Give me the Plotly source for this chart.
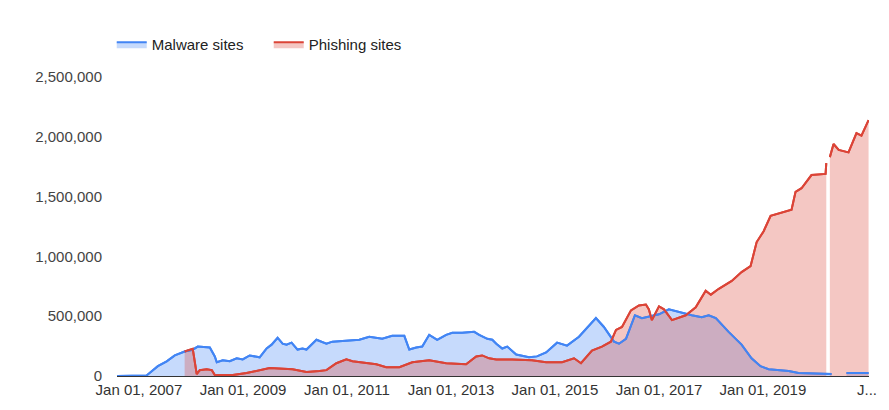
import plotly.graph_objects as go

malware_dates = [
    "2006-08-01", "2007-02-24", "2007-05-14", "2007-07-15", "2007-09-10", "2007-11-18",
    "2008-01-14", "2008-02-18", "2008-05-13", "2008-06-17", "2008-07-01", "2008-08-12",
    "2008-09-30", "2008-11-18", "2008-12-30", "2009-02-17", "2009-04-28", "2009-06-16",
    "2009-07-21", "2009-09-01", "2009-10-06", "2009-11-03", "2009-12-08", "2010-01-19",
    "2010-02-23", "2010-03-23", "2010-06-01", "2010-08-10", "2010-09-21", "2010-12-28",
    "2011-03-29", "2011-06-07", "2011-07-26", "2011-09-06", "2011-11-15", "2012-02-08",
    "2012-03-14", "2012-05-02", "2012-06-13", "2012-08-01", "2012-09-26", "2012-11-28",
    "2013-01-10", "2013-03-20", "2013-06-13", "2013-07-18", "2013-09-13", "2013-10-18",
    "2013-11-15", "2013-12-27", "2014-01-31", "2014-04-04", "2014-07-03", "2014-08-28",
    "2014-10-31", "2015-01-16", "2015-03-27", "2015-06-19", "2015-10-16", "2015-12-11",
    "2016-02-20", "2016-03-26", "2016-05-14", "2016-07-16", "2016-09-03", "2017-01-01",
    "2017-03-11", "2017-05-20", "2017-08-19", "2017-10-28", "2017-12-16", "2018-02-04",
    "2018-05-05", "2018-08-04", "2018-10-13", "2018-12-15", "2019-02-10", "2019-07-01",
    "2019-09-08", "2020-04-27", "2020-05-15", "2020-08-10", "2021-01-12",
]
malware_values = [
    0, 5000, 82000, 123000, 172000, 205000,
    220000, 246000, 238000, 164000, 115000, 131000,
    123000, 148000, 139000, 172000, 156000, 230000,
    262000, 320000, 270000, 262000, 279000, 221000,
    230000, 221000, 303000, 270000, 287000, 295000,
    303000, 328000, 320000, 311000, 336000, 336000,
    221000, 238000, 246000, 344000, 303000, 344000,
    361000, 361000, 369000, 344000, 311000, 303000,
    270000, 230000, 246000, 180000, 156000, 164000,
    197000, 279000, 254000, 328000, 484000, 410000,
    287000, 270000, 311000, 508000, 484000, 516000,
    557000, 533000, 508000, 492000, 508000, 484000,
    369000, 262000, 148000, 82000, 57000, 41000,
    25000, 16000, None, 25000, 25000,
]

phishing_dates = [
    "2007-11-18", "2008-01-14", "2008-02-11", "2008-03-03", "2008-04-21", "2008-05-27",
    "2008-06-17", "2008-10-21", "2009-01-26", "2009-04-07", "2009-07-07", "2009-12-15",
    "2010-03-23", "2010-06-22", "2010-08-10", "2010-10-19", "2010-12-28", "2011-02-09",
    "2011-05-17", "2011-07-26", "2011-10-04", "2012-01-04", "2012-04-04", "2012-08-01",
    "2012-11-28", "2013-04-17", "2013-06-27", "2013-08-08", "2013-09-26", "2013-11-15",
    "2014-03-07", "2014-07-24", "2014-10-31", "2015-02-20", "2015-05-15", "2015-07-03",
    "2015-09-18", "2015-11-27", "2016-01-29", "2016-03-05", "2016-04-16", "2016-06-18",
    "2016-08-13", "2016-10-01", "2016-10-22", "2016-11-12", "2017-01-01", "2017-02-05",
    "2017-04-02", "2017-07-08", "2017-09-16", "2017-11-25", "2017-12-31", "2018-02-25",
    "2018-05-27", "2018-08-04", "2018-10-06", "2018-11-18", "2019-01-06", "2019-02-24",
    "2019-07-21", "2019-08-18", "2019-09-29", "2019-12-08", "2020-03-16", "2020-03-21",
    "2020-04-01", "2020-04-15", "2020-05-11", "2020-06-16", "2020-08-24", "2020-10-19",
    "2020-11-23", "2021-01-12",
]
phishing_values = [
    205000, 228000, 16000, 49000, 57000, 49000,
    8000, 8000, 25000, 41000, 66000, 57000,
    33000, 41000, 49000, 107000, 139000, 123000,
    107000, 98000, 74000, 74000, 115000, 131000,
    107000, 98000, 164000, 172000, 148000, 139000,
    139000, 131000, 115000, 115000, 148000, 107000,
    213000, 246000, 287000, 385000, 410000, 549000,
    590000, 598000, 557000, 467000, 582000, 557000,
    467000, 508000, 574000, 713000, 680000, 729000,
    795000, 869000, 918000, 1120000, 1210000, 1340000,
    1390000, 1540000, 1570000, 1680000, 1690000, 1780000,
    None, 1830000, 1940000, 1890000, 1870000, 2030000,
    2010000, 2140000,
]

x_tick_vals = ["2007-01-01", "2009-01-01", "2011-01-01", "2013-01-01",
               "2015-01-01", "2017-01-01", "2019-01-01", "2021-01-01"]
x_tick_text = ["Jan 01, 2007", "Jan 01, 2009", "Jan 01, 2011", "Jan 01, 2013",
               "Jan 01, 2015", "Jan 01, 2017", "Jan 01, 2019", "J..."]
y_tick_vals = [0, 500000, 1000000, 1500000, 2000000, 2500000]
y_tick_text = ["0", "500,000", "1,000,000", "1,500,000", "2,000,000", "2,500,000"]

BLUE = "#4285f4"
RED = "#db4437"
FONT = "Arial, 'Liberation Sans', sans-serif"


def segments(xs, ys):
    segs, cx, cy = [], [], []
    for x, y in zip(xs, ys):
        if y is None:
            if cx:
                segs.append((cx, cy))
            cx, cy = [], []
        else:
            cx.append(x)
            cy.append(y)
    if cx:
        segs.append((cx, cy))
    return segs


fig = go.Figure()


def add_area(xs, ys, name, color, fillcolor):
    for i, (sx, sy) in enumerate(segments(xs, ys)):
        fig.add_trace(go.Scatter(
            x=sx, y=sy, name=name, mode="lines", legendgroup=name,
            showlegend=(i == 0),
            line=dict(color=color, width=2), fill="tozeroy", fillcolor=fillcolor,
        ))


add_area(malware_dates, malware_values, "Malware sites", BLUE, "rgba(66,133,244,0.3)")
add_area(phishing_dates, phishing_values, "Phishing sites", RED, "rgba(219,68,55,0.3)")

fig.add_trace(go.Scatter(
    x=malware_dates, y=malware_values, mode="lines", showlegend=False,
    line=dict(color=BLUE, width=2), connectgaps=False, hoverinfo="skip",
))
fig.add_trace(go.Scatter(
    x=phishing_dates, y=phishing_values, mode="lines", showlegend=False,
    line=dict(color=RED, width=2), connectgaps=False, hoverinfo="skip",
))

fig.update_layout(
    width=889, height=410,
    margin=dict(l=117, r=18, t=77, b=30),
    paper_bgcolor="white", plot_bgcolor="white",
    font=dict(family=FONT, size=15, color="#444"),
    showlegend=True,
    legend=dict(
        orientation="h", x=-0.007, xanchor="left", y=1.109, yanchor="middle",
        font=dict(family=FONT, size=15, color="#222"),
        entrywidth=112, entrywidthmode="pixels",
        bgcolor="rgba(0,0,0,0)", borderwidth=0,
    ),
    xaxis=dict(
        type="date", range=["2006-07-31", "2021-01-15"],
        tickvals=x_tick_vals, ticktext=x_tick_text,
        showgrid=False, zeroline=False, showline=True, linecolor="#333", linewidth=1,
        ticks="", tickfont=dict(family=FONT, size=15, color="#333"),
    ),
    yaxis=dict(
        range=[0, 2500000], tickvals=y_tick_vals, ticktext=y_tick_text,
        showgrid=False, zeroline=False, showline=False, ticks="",
        tickfont=dict(family=FONT, size=15, color="#444"),
        ticklabelstandoff=14,
    ),
)

fig.write_html("out.html")
